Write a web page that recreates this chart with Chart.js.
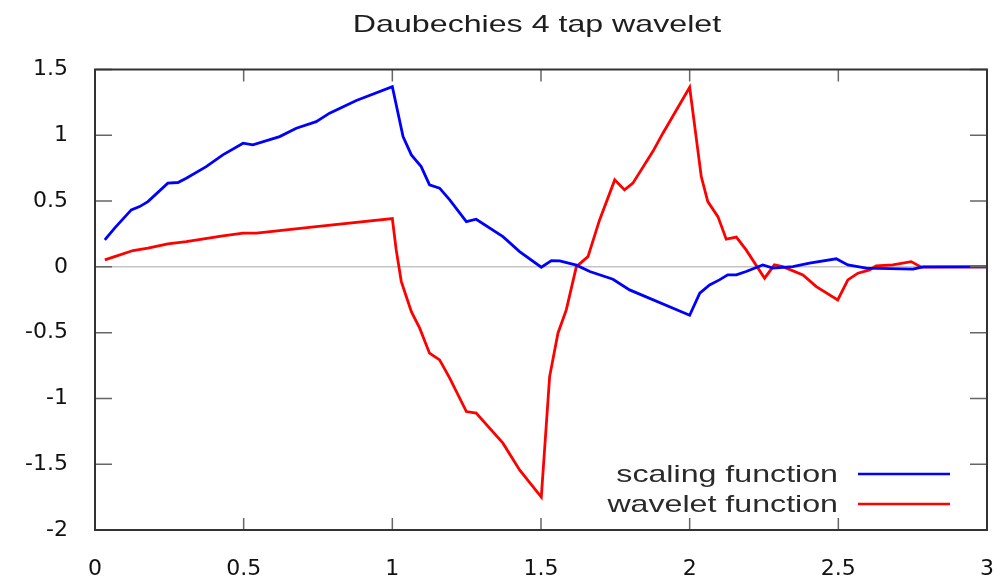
<!DOCTYPE html>
<html>
<head>
<meta charset="utf-8">
<title>Daubechies 4 tap wavelet</title>
<script src="https://cdn.jsdelivr.net/npm/chart.js@4.4.1/dist/chart.umd.min.js"></script>
<style>
    html, body { margin: 0; padding: 0; background: #fff; }
    #wrap { width: 994px; height: 576px; }
</style>
</head>
<body>
<div id="wrap"><canvas id="waveletChart"></canvas></div>
<script>
// Values
const chartTitle = 'Daubechies 4 tap wavelet';
const seriesNames = ['scaling function', 'wavelet function'];
const seriesColors = ['#0000ff', '#ff0000'];

const xTicks = [0, 0.5, 1, 1.5, 2, 2.5, 3];
const xTickLabels = ['0', '0.5', '1', '1.5', '2', '2.5', '3'];
const yTicks = [-2, -1.5, -1, -0.5, 0, 0.5, 1, 1.5];
const yTickLabels = ['-2', '-1.5', '-1', '-0.5', '0', '0.5', '1', '1.5'];

// scaling function (blue)
const scalingX = [0.033, 0.066, 0.122, 0.150, 0.178, 0.245, 0.279, 0.307, 0.374, 0.430,
    0.498, 0.531, 0.621, 0.677, 0.744, 0.789, 0.879, 1.000, 1.036, 1.064,
    1.097, 1.125, 1.159, 1.193, 1.249, 1.282, 1.372, 1.428, 1.501, 1.535,
    1.563, 1.619, 1.664, 1.742, 1.798, 2.000, 2.034, 2.067, 2.100, 2.128,
    2.157, 2.190, 2.246, 2.280, 2.347, 2.403, 2.493, 2.532, 2.594, 2.751,
    2.785, 3.000];
const scalingY = [0.205, 0.294, 0.433, 0.458, 0.496, 0.636, 0.641, 0.674, 0.762, 0.851,
    0.940, 0.927, 0.990, 1.054, 1.104, 1.168, 1.264, 1.370, 0.990, 0.851,
    0.762, 0.623, 0.598, 0.509, 0.344, 0.362, 0.230, 0.116, -0.003, 0.048,
    0.046, 0.013, -0.035, -0.094, -0.175, -0.368, -0.200, -0.137, -0.099, -0.061,
    -0.061, -0.035, 0.015, -0.010, 0.002, 0.028, 0.061, 0.015, -0.010, -0.017,
    0.000, 0.000];

// wavelet function (red)
const waveletX = [0.033, 0.066, 0.128, 0.178, 0.245, 0.307, 0.430, 0.498, 0.543, 0.744,
    1.000, 1.013, 1.030, 1.064, 1.092, 1.125, 1.159, 1.193, 1.249, 1.282,
    1.372, 1.428, 1.501, 1.512, 1.529, 1.557, 1.585, 1.619, 1.658, 1.697,
    1.748, 1.781, 1.809, 1.876, 1.910, 2.000, 2.039, 2.061, 2.095, 2.123,
    2.157, 2.190, 2.252, 2.285, 2.313, 2.381, 2.426, 2.498, 2.532, 2.566,
    2.605, 2.627, 2.683, 2.745, 2.779, 3.000];
const waveletY = [0.053, 0.078, 0.124, 0.142, 0.175, 0.192, 0.236, 0.256, 0.256, 0.306,
    0.367, 0.129, -0.110, -0.340, -0.466, -0.656, -0.707, -0.846, -1.100, -1.112,
    -1.340, -1.543, -1.750, -1.390, -0.834, -0.504, -0.327, 0.002, 0.078, 0.357,
    0.661, 0.585, 0.636, 0.876, 1.016, 1.365, 0.686, 0.496, 0.382, 0.210,
    0.226, 0.129, -0.086, 0.015, 0.002, -0.061, -0.150, -0.251, -0.099, -0.048,
    -0.023, 0.008, 0.015, 0.040, -0.002, 0.000];

const textFont = '"Liberation Sans", Arial, sans-serif';
const textStretch = 1.34;   // reference text is wider than it is tall

// Frame, inward ticks, title and legend (gnuplot look)
const framePlugin = {
    id: 'gnuplotFrame',
    afterDatasetsDraw(chart) {
        const { ctx, chartArea: a, scales: { x, y } } = chart;
        ctx.save();

        // inward ticks on all four sides
        ctx.strokeStyle = '#666';
        ctx.lineWidth = 1.5;
        ctx.beginPath();
        xTicks.forEach(v => {
            const px = x.getPixelForValue(v);
            ctx.moveTo(px, a.bottom); ctx.lineTo(px, a.bottom - 12);
            ctx.moveTo(px, a.top); ctx.lineTo(px, a.top + 12);
        });
        yTicks.forEach(v => {
            const py = y.getPixelForValue(v);
            ctx.moveTo(a.left, py); ctx.lineTo(a.left + 17, py);
            ctx.moveTo(a.right, py); ctx.lineTo(a.right - 17, py);
        });
        ctx.stroke();

        // border
        ctx.strokeStyle = '#333';
        ctx.lineWidth = 2;
        ctx.strokeRect(a.left, a.top, a.right - a.left, a.bottom - a.top);

        // title
        ctx.fillStyle = '#1e1e1e';
        ctx.font = '24px ' + textFont;
        ctx.textAlign = 'center';
        ctx.textBaseline = 'alphabetic';
        ctx.save();
        ctx.translate((a.left + a.right) / 2 - 4, 32);
        ctx.scale(textStretch, 1);
        ctx.fillText(chartTitle, 0, 0);
        ctx.restore();

        // legend, bottom right inside the plot
        ctx.font = '24px ' + textFont;
        ctx.textAlign = 'right';
        seriesNames.forEach((name, i) => {
            const base = a.bottom - 48 + i * 30;
            ctx.save();
            ctx.translate(a.right - 149, base);
            ctx.scale(textStretch, 1);
            ctx.fillStyle = '#2a2a2a';
            ctx.fillText(name, 0, 0);
            ctx.restore();

            ctx.strokeStyle = seriesColors[i];
            ctx.lineWidth = 2.5;
            ctx.beginPath();
            ctx.moveTo(a.right - 129, base - 8);
            ctx.lineTo(a.right - 37, base - 8);
            ctx.stroke();
        });

        ctx.restore();
    }
};

const tickFont = { family: '"DejaVu Sans", sans-serif', size: 22 };

new Chart(document.getElementById('waveletChart'), {
    type: 'line',
    data: {
        datasets: [
            {
                label: seriesNames[0],
                data: scalingX.map((v, i) => ({ x: v, y: scalingY[i] })),
                borderColor: seriesColors[0],
                borderWidth: 2.8,
                pointRadius: 0,
                tension: 0,
                fill: false
            },
            {
                label: seriesNames[1],
                data: waveletX.map((v, i) => ({ x: v, y: waveletY[i] })),
                borderColor: seriesColors[1],
                borderWidth: 2.8,
                pointRadius: 0,
                tension: 0,
                fill: false
            }
        ]
    },
    options: {
        responsive: true,
        maintainAspectRatio: false,
        animation: false,
        events: [],
        layout: { padding: { top: 69.5, right: 7, bottom: 0, left: 0 } },
        plugins: {
            legend: { display: false },
            tooltip: { enabled: false },
            title: { display: false }
        },
        scales: {
            x: {
                type: 'linear',
                min: 0,
                max: 3,
                afterBuildTicks: s => { s.ticks = xTicks.map(v => ({ value: v })); },
                afterFit: s => {
                    s.height = 46;
                    s.paddingLeft = 0;
                    s.paddingRight = 0;
                },
                ticks: {
                    autoSkip: false,
                    maxRotation: 0,
                    padding: 18,
                    color: '#111',
                    font: tickFont,
                    callback: (v, i) => xTickLabels[i]
                },
                grid: { display: false },
                border: { display: false }
            },
            y: {
                type: 'linear',
                min: -2,
                max: 1.5,
                afterBuildTicks: s => { s.ticks = yTicks.map(v => ({ value: v })); },
                afterFit: s => {
                    s.width = 95;
                    s.paddingTop = 0;
                    s.paddingBottom = 0;
                },
                ticks: {
                    autoSkip: false,
                    padding: 27,
                    color: '#111',
                    font: tickFont,
                    callback: (v, i) => yTickLabels[i]
                },
                grid: {
                    drawTicks: false,
                    lineWidth: 1.5,
                    color: c => (c.tick && c.tick.value === 0 ? '#c4c4c4' : 'rgba(0,0,0,0)')
                },
                border: { display: false }
            }
        }
    },
    plugins: [framePlugin]
});
</script>
</body>
</html>
